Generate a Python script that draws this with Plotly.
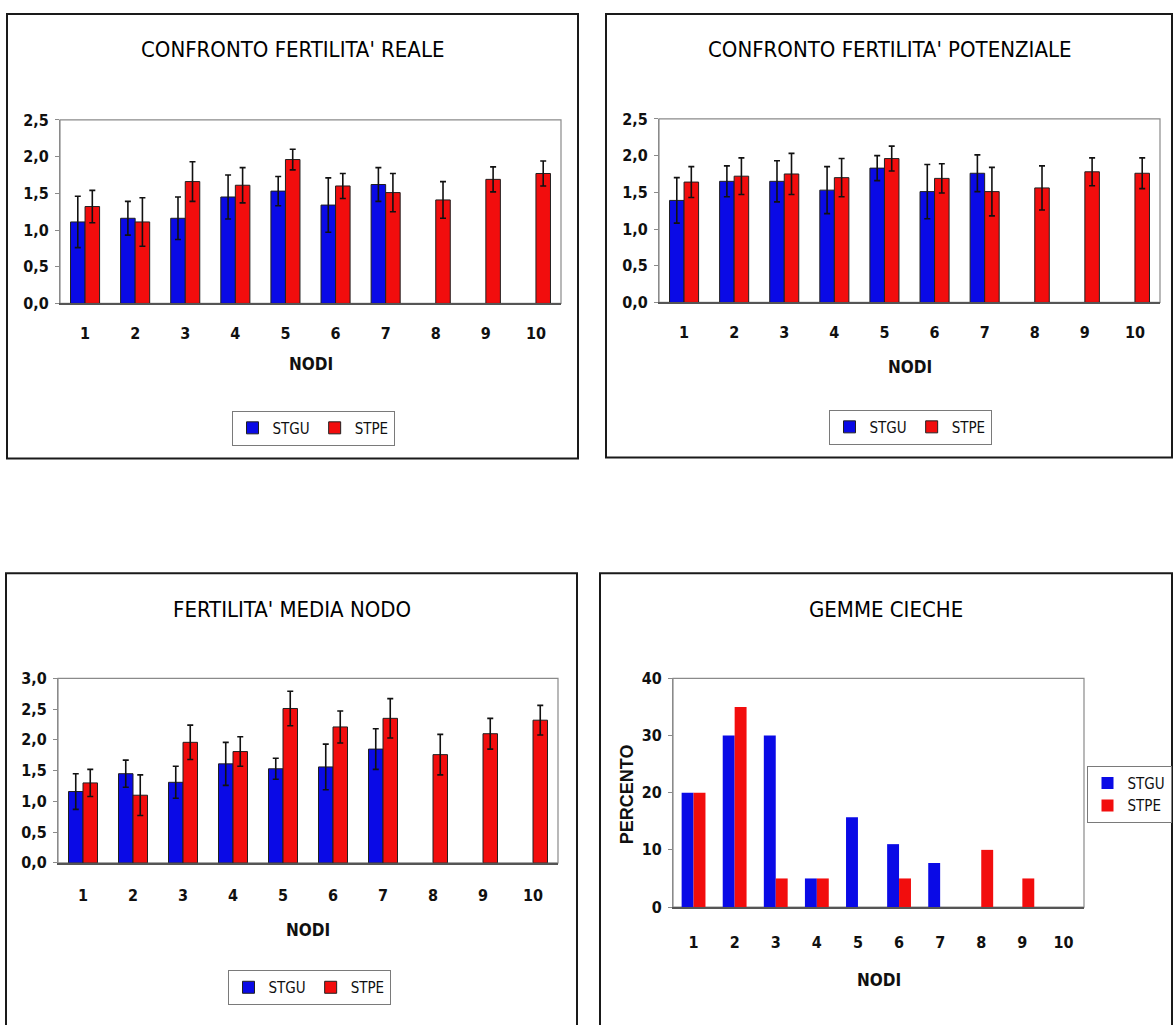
import plotly.graph_objects as go

# ---------------- DATA ----------------
nodes = [1, 2, 3, 4, 5, 6, 7, 8, 9, 10]
nodes_stgu = [1, 2, 3, 4, 5, 6, 7]
series_names = ["STGU", "STPE"]

reale_stgu = [1.11, 1.16, 1.16, 1.45, 1.53, 1.34, 1.62]
reale_stgu_err = [0.35, 0.23, 0.29, 0.30, 0.20, 0.37, 0.23]
reale_stpe = [1.32, 1.11, 1.66, 1.61, 1.96, 1.60, 1.51, 1.41, 1.69, 1.77]
reale_stpe_err = [0.22, 0.33, 0.27, 0.24, 0.14, 0.17, 0.26, 0.25, 0.17, 0.17]

pot_stgu = [1.39, 1.65, 1.65, 1.53, 1.83, 1.51, 1.76]
pot_stgu_err = [0.31, 0.21, 0.28, 0.32, 0.17, 0.37, 0.25]
pot_stpe = [1.64, 1.72, 1.75, 1.70, 1.96, 1.69, 1.51, 1.56, 1.78, 1.76]
pot_stpe_err = [0.21, 0.25, 0.28, 0.26, 0.17, 0.20, 0.33, 0.30, 0.19, 0.21]

media_stgu = [1.16, 1.45, 1.31, 1.61, 1.53, 1.56, 1.85]
media_stgu_err = [0.29, 0.22, 0.26, 0.35, 0.17, 0.37, 0.33]
media_stpe = [1.30, 1.10, 1.96, 1.81, 2.51, 2.21, 2.35, 1.76, 2.10, 2.32]
media_stpe_err = [0.22, 0.33, 0.28, 0.24, 0.28, 0.26, 0.32, 0.33, 0.25, 0.24]

gemme_stgu = [20, 30, 30, 5, 15.7, 11, 7.7, 0, 0, 0]
gemme_stpe = [20, 35, 5, 5, 0, 5, 0, 10, 5, 0]

titles = ["CONFRONTO FERTILITA' REALE", "CONFRONTO FERTILITA' POTENZIALE",
          "FERTILITA' MEDIA NODO", "GEMME CIECHE"]
x_title = "NODI"
y_title_gemme = "PERCENTO"

# ---------------- STYLE / LAYOUT ----------------
W, H = 1175, 1025
BLUE = "#0a0ae6"
RED = "#f20d0d"
NARROW = "Liberation Sans Narrow, Arial Narrow, DejaVu Sans Condensed, Liberation Sans, Arial"
TXT = "#101010"


def px_x(a, b):
    return [a / W, b / W]


def px_y(top, bottom):
    return [1 - bottom / H, 1 - top / H]


def xp(v):
    return v / W


def yp(v):
    return 1 - v / H


# panel geometry in pixels: plot x0, x1, y_top, y_bottom ; box
panels = [
    dict(plot=(60, 561, 113, 300), box=(7, 578, 5, 458), xlab=15, leg=(313, 427), nodi=362),
    dict(plot=(659, 1160, 112, 299), box=(606, 1172, 5, 457), xlab=15, leg=(910, 426), nodi=365),
    dict(plot=(58, 558, 682, 870), box=(6, 577, 575, 1040), xlab=17, leg=(309, 997), nodi=938),
    dict(plot=(673, 1084, 682, 915), box=(600, 1172, 575, 1040), xlab=20, leg=(1129, 800), nodi=989),
]

fig = go.Figure()

bar_series = [
    (reale_stgu, reale_stgu_err, reale_stpe, reale_stpe_err),
    (pot_stgu, pot_stgu_err, pot_stpe, pot_stpe_err),
    (media_stgu, media_stgu_err, media_stpe, media_stpe_err),
]

err_style = dict(type="data", symmetric=True, color="#111111", thickness=1.6, width=3)
line_style = dict(color="#202020", width=1)

for i, (s1, e1, s2, e2) in enumerate(bar_series):
    k = "" if i == 0 else str(i + 1)
    fig.add_trace(go.Bar(x=nodes_stgu, y=s1, name=series_names[0],
                         marker=dict(color=BLUE, line=line_style),
                         error_y=dict(array=e1, **err_style),
                         xaxis="x" + k, yaxis="y" + k, legend="legend" + k))
    fig.add_trace(go.Bar(x=nodes, y=s2, name=series_names[1],
                         marker=dict(color=RED, line=line_style),
                         error_y=dict(array=e2, **err_style),
                         xaxis="x" + k, yaxis="y" + k, legend="legend" + k))

fig.add_trace(go.Bar(x=nodes, y=gemme_stgu, name=series_names[0],
                     marker=dict(color=BLUE, line=dict(width=0)),
                     xaxis="x4", yaxis="y4", legend="legend4"))
fig.add_trace(go.Bar(x=nodes, y=gemme_stpe, name=series_names[1],
                     marker=dict(color=RED, line=dict(width=0)),
                     xaxis="x4", yaxis="y4", legend="legend4"))

layout = dict(
    width=W, height=H,
    margin=dict(l=0, r=0, t=0, b=0),
    paper_bgcolor="white", plot_bgcolor="white",
    separators=",.",
    barmode="group", bargap=0.42, bargroupgap=0,
    font=dict(family=NARROW, color=TXT),
    showlegend=True,
)

yranges = [(0, 2.5, 0.5), (0, 2.5, 0.5), (0, 3.0, 0.5), (0, 40, 10)]
shapes = []
annotations = []

for i, p in enumerate(panels):
    k = "" if i == 0 else str(i + 1)
    x0, x1, yt, yb = p["plot"]
    ylo, yhi, dt = yranges[i]
    layout["xaxis" + k] = dict(
        domain=px_x(x0, x1), anchor="y" + k, range=[0.5, 10.5],
        tickvals=nodes, ticktext=[str(n) for n in nodes],
        showline=True, linecolor="#555555", linewidth=1.5,
        ticks="", showgrid=False, zeroline=False,
        ticklabelstandoff=p["xlab"],
        tickfont=dict(size=16, family=NARROW, color=TXT, weight="bold"),
        fixedrange=True,
    )
    layout["yaxis" + k] = dict(
        domain=px_y(yt, yb), anchor="x" + k, range=[ylo, yhi],
        dtick=dt, tick0=0, tickformat=".1f" if i < 3 else "d",
        showline=True, linecolor="#8a8a8a", linewidth=1,
        ticks="outside", ticklen=4, tickcolor="#8a8a8a",
        ticklabelstandoff=3,
        showgrid=False, zeroline=False,
        tickfont=dict(size=16, family=NARROW, color=TXT, weight="bold"),
        fixedrange=True,
    )
    # plot frame
    shapes.append(dict(type="rect", xref="x" + k + " domain", yref="y" + k + " domain",
                       x0=0, x1=1, y0=0, y1=1, line=dict(color="#8a8a8a", width=1.2),
                       layer="below"))
    # panel box
    bx0, bx1, by0, by1 = p["box"]
    shapes.append(dict(type="rect", xref="paper", yref="paper",
                       x0=xp(bx0), x1=xp(bx1), y0=yp(by1), y1=yp(by0),
                       line=dict(color="#1a1a1a", width=2)))
    # title
    annotations.append(dict(text=titles[i], xref="paper", yref="paper",
                            x=xp((bx0 + bx1) / 2), y=yp(41 if i < 2 else 612),
                            xanchor="center", yanchor="middle", showarrow=False,
                            font=dict(size=22, family=NARROW, color="#000000")))
    # x title
    annotations.append(dict(text=x_title, xref="paper", yref="paper",
                            x=xp((x0 + x1) / 2), y=yp(p["nodi"]),
                            xanchor="center", yanchor="middle", showarrow=False,
                            font=dict(size=17, family=NARROW, color=TXT, weight="bold")))
    # legend
    lx, ly = p["leg"]
    layout["legend" + k] = dict(
        x=xp(lx), y=yp(ly), xanchor="center", yanchor="middle",
        xref="paper", yref="paper",
        orientation="h" if i < 3 else "v",
        bgcolor="white", bordercolor="#7a7a7a", borderwidth=1,
        font=dict(size=15, family=NARROW, color=TXT),
        itemwidth=30, tracegroupgap=2,
    )

# PERCENTO axis title
annotations.append(dict(text=y_title_gemme, xref="paper", yref="paper",
                        x=xp(627), y=yp(800), textangle=-90,
                        xanchor="center", yanchor="middle", showarrow=False,
                        font=dict(size=18, family="Liberation Sans, Arial", color=TXT, weight="bold")))

layout["shapes"] = shapes
layout["annotations"] = annotations
fig.update_layout(**layout)

fig.write_html("out.html",
               config={"displayModeBar": False},
               post_script="document.body.style.margin='0px';document.body.style.overflow='hidden';")
